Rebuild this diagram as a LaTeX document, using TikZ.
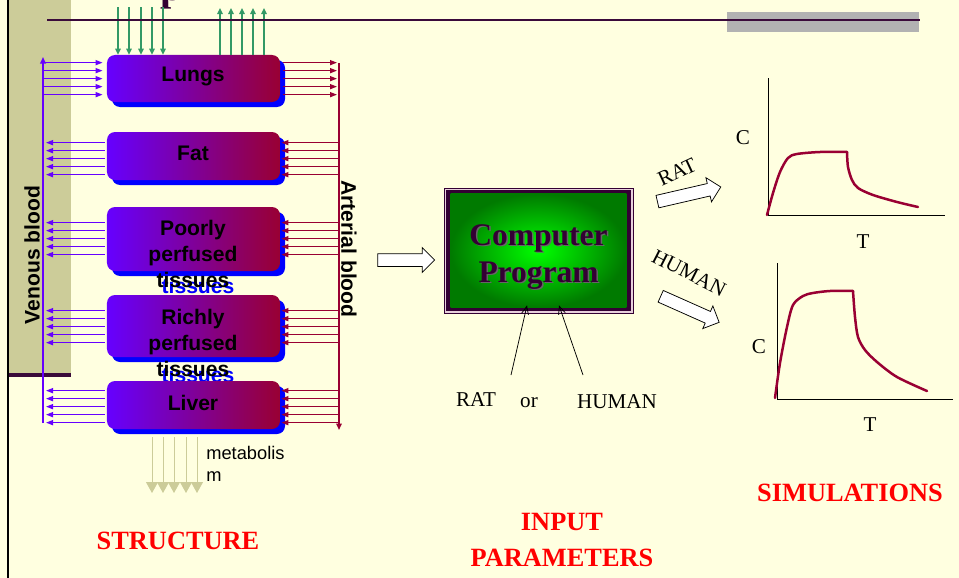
\documentclass[tikz,border=0pt]{standalone}
\usepackage{fontspec}
\setmainfont{Liberation Serif}
\setsansfont{Liberation Sans}
\usetikzlibrary{arrows.meta,calc,shadows,shapes.arrows}

\definecolor{bgyellow}{HTML}{FFFFE0}
\definecolor{bandtan}{HTML}{CCCC99}
\definecolor{linepurple}{HTML}{3A0A3A}
\definecolor{bargray}{HTML}{B2B2B2}
\definecolor{venviolet}{HTML}{6600FF}
\definecolor{artcrimson}{HTML}{990033}
\definecolor{airgreen}{HTML}{339966}
\definecolor{shadowblue}{HTML}{0000FF}
\definecolor{progpurple}{HTML}{330033}
\definecolor{progedge}{HTML}{E8D0DC}
\definecolor{progdark}{HTML}{007A00}
\definecolor{titlered}{HTML}{FF0000}

\tikzset{
  organ/.style={rounded corners=1.6mm, minimum width=34.6mm, inner sep=0pt,
    left color=venviolet, right color=artcrimson,
    drop shadow={shadow xshift=1mm, shadow yshift=-1mm, fill=shadowblue, opacity=1}},
  organlabel/.style={font=\fontsize{12}{14.8}\selectfont\sffamily\bfseries, align=center, inner sep=0pt},
  labelshadow/.style={organlabel, text=shadowblue},
  venarrow/.style={venviolet, line width=0.27mm, -{Triangle[length=1.4mm,width=1mm]}},
  artarrow/.style={artcrimson, line width=0.27mm, -{Triangle[length=1.4mm,width=1mm]}},
  airarrow/.style={airgreen, line width=0.27mm, -{Triangle[length=1.2mm,width=1.1mm]}},
  metab/.style={bandtan, line width=0.2mm, -{Triangle[length=2.2mm,width=2.4mm]}},
  hollowarrow/.style={single arrow, draw=black, fill=white, line width=0.15mm,
    inner xsep=0pt, inner ysep=1.2mm, minimum height=11.4mm, single arrow head extend=1.2mm},
  inputtext/.style={font=\fontsize{12}{14}\selectfont, inner sep=0pt},
  inputline/.style={line width=0.15mm, -{Straight Barb[length=1.6mm,width=1.4mm]}},
  titletext/.style={font=\fontsize{15}{20.5}\selectfont\bfseries, text=titlered, align=center, inner sep=0pt},
  axisline/.style={line width=0.2mm},
  curve/.style={artcrimson, line width=0.5mm, line cap=round, line join=round},
}

\begin{document}
\begin{tikzpicture}[x=0.2mm,y=-0.2mm]
  \fill[bgyellow] (0,0) rectangle (959,578);
  \useasboundingbox (0,0) rectangle (959,578);
  % slide frame
  \fill[bandtan] (9,0) rectangle (71,373);
  \fill[linepurple] (9,373) rectangle (71,377);
  \draw[line width=0.45mm] (8,0) -- (8,578);
  \fill[bargray] (727,12) rectangle (919,32);
  \node[anchor=base west, inner sep=0pt, font=\fontsize{23}{23}\selectfont\bfseries, text=progpurple] (titlep) at (160,0) {p};

  % organs
  \node[organ, minimum height=9.4mm] (lungs) at (193.5,78.5) {};
  \node[organlabel] (lungstext) at (193,76) {Lungs};
  \node[organ, minimum height=9.6mm] (fat) at (193.5,156) {};
  \node[organlabel] (fattext) at (193,153) {Fat};
  \node[labelshadow] (poorshade) at (198,260) {Poorly\\perfused\\tissues};
  \node[organ, minimum height=12.8mm] (poor) at (193.5,239) {};
  \node[organlabel] (poortext) at (193,254) {Poorly\\perfused\\tissues};
  \node[labelshadow] (richshade) at (198,349) {Richly\\perfused\\tissues};
  \node[organ, minimum height=12.4mm] (rich) at (193.5,326) {};
  \node[organlabel] (richtext) at (193,343) {Richly\\perfused\\tissues};
  \node[organ, minimum height=9.6mm] (liver) at (193.5,405) {};
  \node[organlabel] (livertext) at (193,403) {Liver};

  % air in and out of the lungs
  \foreach \x in {118,129,141,152,163}
    \draw[airarrow] (\x,7) -- (\x,0 |- lungs.north);
  \foreach \x in {220,231,242,253,264}
    \draw[airarrow] (\x,0 |- lungs.north) -- (\x,8);
  \draw[linepurple, line width=0.4mm] (47,20) -- (920,20);

  % venous and arterial trunks
  \draw[venviolet, line width=0.4mm, -{Triangle[length=1.3mm,width=1.1mm]}] (43,423) -- (43,57);
  \draw[artcrimson, line width=0.3mm, -{Triangle[length=1.3mm,width=1.1mm]}] (339,63) -- (339,430);
  \node[organlabel, rotate=90] (venlabel) at (32,255) {Venous blood};
  \node[organlabel, rotate=-90] (artlabel) at (349,249) {Arterial blood};

  % lungs take venous blood and give arterial blood
  \foreach \k in {0,...,4}{
    \coordinate (p) at ($(lungs.north west)+(-4,8+8*\k)$);
    \draw[venarrow] (43,0 |- p) -- (p);
    \coordinate (q) at ($(lungs.north east)+(3,8+8*\k)$);
    \draw[artarrow] (q) -- (337,0 |- q);
  }
  % the other organs
  \foreach \org/\dy in {fat/11,poor/16,rich/16,liver/10}
    \foreach \k in {0,...,4}{
      \coordinate (p) at ($(\org.north west)+(-2,\dy+8*\k)$);
      \draw[venarrow] (p) -- (46,0 |- p);
      \coordinate (q) at ($(\org.north east)+(1,\dy+8*\k)$);
      \draw[artarrow] (339,0 |- q) -- (q);
    }

  % metabolism
  \foreach \x in {152,163,174,186,197}
    \draw[metab] (\x,437) -- (\x,493);
  \node[anchor=north west, inner sep=0pt, align=left, font=\fontsize{10.4}{12.5}\selectfont\sffamily] (metlabel) at (206,446) {metabolis\\m};

  % computer program
  \node[hollowarrow] (toprog) at (403,260) {};
  \node[draw=progpurple, line width=0.15mm, fill=progedge, minimum width=37.8mm, minimum height=25mm] (prog) at (538.5,250.5) {};
  \fill[progpurple] ([shift={(2,2)}]prog.north west) rectangle ([shift={(-2,-2)}]prog.south east);
  \shade[inner color=green, outer color=progdark] ([shift={(7,6)}]prog.north west) rectangle ([shift={(-7,-6)}]prog.south east);
  \node[font=\fontsize{17.9}{21}\selectfont\bfseries, text=black!60, align=center, inner sep=0pt] (progshade) at (540,258.5) {Computer\\Program};
  \node[font=\fontsize{17.9}{21}\selectfont\bfseries, text=progpurple, align=center, inner sep=0pt] (progtext) at (538.5,257) {Computer\\Program};

  \coordinate (ratin) at (511,375);
  \coordinate (humanin) at (583,375);
  \draw[inputline] (ratin) -- ([shift={(-11.5,-8)}]prog.south);
  \draw[inputline] (humanin) -- ([shift={(20.5,-8)}]prog.south);
  \node[inputtext] (ratname) at (476,400) {RAT};
  \node[inputtext] (ortext) at (529,403) {or};
  \node[inputtext] (humanname) at (617,402) {HUMAN};

  % simulations
  \node[hollowarrow, minimum height=13mm, rotate=13] (ratarrow) at (686,195) {};
  \node[hollowarrow, minimum height=12.8mm, rotate=-24] (humanarrow) at (687,308) {};
  \node[inputtext, rotate=25] (ratlabel) at (677,172) {RAT};
  \node[inputtext, rotate=-27] (humanlabel) at (689,273) {HUMAN};

  \draw[axisline] (768,78) -- (768,215) -- (945,215);
  \draw[curve] plot[smooth, tension=0.5] coordinates {(767,215) (773,193) (780,172) (788,158) (797,154) (820,152) (847,152)};
  \draw[curve] plot[smooth, tension=0.5] coordinates {(847,152) (848,167) (852,180) (858,188) (873,195) (897,202) (918,207)};
  \node[inputtext] (ratc) at (743,138) {C};
  \node[inputtext] (ratt) at (863,242) {T};

  \draw[axisline] (777,263) -- (777,399) -- (953,399);
  \draw[curve] plot[smooth, tension=0.5] coordinates {(775,398) (780,363) (787,327) (793,305) (803,296) (813,293) (830,291) (853,291)};
  \draw[curve] plot[smooth, tension=0.5] coordinates {(853,291) (855,317) (858,337) (865,350) (877,362) (897,377) (927,391)};
  \node[inputtext] (humc) at (759,347) {C};
  \node[inputtext] (humt) at (870,425) {T};

  \node[titletext] (structure) at (178,541) {STRUCTURE};
  \node[titletext] (inputs) at (562,540) {INPUT\\PARAMETERS};
  \node[titletext] (sims) at (850,493) {SIMULATIONS};
\end{tikzpicture}
\end{document}
